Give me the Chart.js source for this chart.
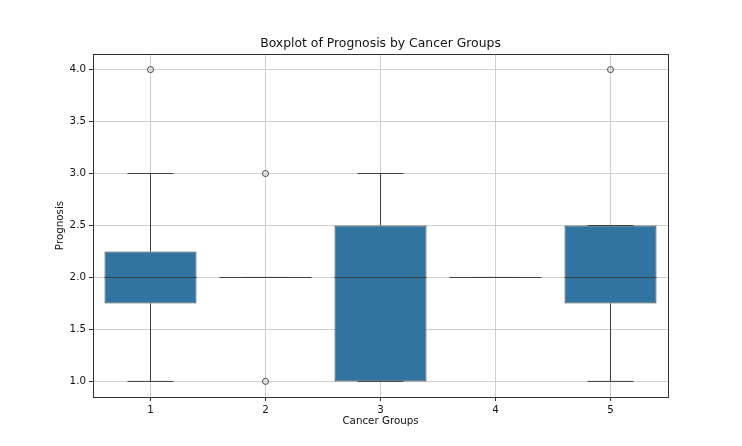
<!DOCTYPE html>
<html>
<head>
<meta charset="utf-8">
<script src="https://cdn.jsdelivr.net/npm/chart.js@4"></script>
<style>
  html, body { margin: 0; padding: 0; background: #fff; }
  #wrap { width: 742px; height: 446px; }
</style>
</head>
<body>
<div id="wrap"><canvas id="chart"></canvas></div>
<script>
// boxplot stats per cancer group
const groups = ['1', '2', '3', '4', '5'];
const q1 = [1.75, 2, 1, 2, 1.75];
const q3 = [2.25, 2, 2.5, 2, 2.5];
const medians = [2, 2, 2, 2, 2];
const whiskerLow = [1, 2, 1, 2, 1];
const whiskerHigh = [3, 2, 3, 2, 2.5];
const outliers = [[4], [1, 3], [], [], [4]];
const yTicks = [1.0, 1.5, 2.0, 2.5, 3.0, 3.5, 4.0];
const titleText = 'Boxplot of Prognosis by Cancer Groups';

const boxFill = '#3274a1';
const lineColor = '#3f3f3f';
const font = 'DejaVu Sans';

const outlierPoints = [];
outliers.forEach((vals, i) => {
    vals.forEach(v => outlierPoints.push({ x: groups[i], y: v }));
});

const boxPlugin = {
    id: 'boxParts',
    afterDatasetsDraw(chart) {
        const ctx = chart.ctx;
        const y = chart.scales.y;
        const bars = chart.getDatasetMeta(0).data;
        ctx.save();
        ctx.strokeStyle = lineColor;
        ctx.lineWidth = 1;
        bars.forEach((bar, i) => {
            const cx = bar.x;
            const half = bar.width / 2;
            const capHalf = half / 2;
            ctx.beginPath();
            // whiskers
            ctx.moveTo(cx, y.getPixelForValue(q1[i]));
            ctx.lineTo(cx, y.getPixelForValue(whiskerLow[i]));
            ctx.moveTo(cx, y.getPixelForValue(q3[i]));
            ctx.lineTo(cx, y.getPixelForValue(whiskerHigh[i]));
            // caps
            const lo = y.getPixelForValue(whiskerLow[i]);
            const hi = y.getPixelForValue(whiskerHigh[i]);
            ctx.moveTo(cx - capHalf, lo);
            ctx.lineTo(cx + capHalf, lo);
            ctx.moveTo(cx - capHalf, hi);
            ctx.lineTo(cx + capHalf, hi);
            // median
            const m = y.getPixelForValue(medians[i]);
            ctx.moveTo(cx - half, m);
            ctx.lineTo(cx + half, m);
            ctx.stroke();
        });
        // frame round plot area
        const a = chart.chartArea;
        ctx.strokeStyle = '#333';
        ctx.strokeRect(Math.round(a.left) + 0.5, Math.round(a.top) + 0.5,
            Math.round(a.right - a.left), Math.round(a.bottom - a.top));
        // title centred over the plot area, like matplotlib
        ctx.fillStyle = '#111';
        ctx.font = '12.4px "' + font + '"';
        ctx.textAlign = 'center';
        ctx.textBaseline = 'middle';
        ctx.fillText(titleText, (a.left + a.right) / 2, a.top - 10);
        ctx.restore();
    }
};

new Chart(document.getElementById('chart'), {
    data: {
        labels: groups,
        datasets: [
            {
                type: 'bar',
                data: groups.map((g, i) => [q1[i], q3[i]]),
                backgroundColor: boxFill,
                borderColor: lineColor,
                borderWidth: 1,
                borderSkipped: false,
                barPercentage: 0.8,
                categoryPercentage: 1.0
            },
            {
                type: 'scatter',
                data: outlierPoints,
                pointStyle: 'circle',
                pointRadius: 3,
                pointBackgroundColor: 'rgba(0,0,0,0)',
                pointBorderColor: lineColor,
                pointBorderWidth: 1
            }
        ]
    },
    options: {
        responsive: true,
        maintainAspectRatio: false,
        animation: false,
        layout: { padding: { top: 54, left: 50, right: 74, bottom: 14 } },
        plugins: {
            legend: { display: false },
            tooltip: { enabled: false },
            title: { display: false }
        },
        scales: {
            x: {
                type: 'category',
                offset: true,
                grid: { color: '#cfcfcf', tickColor: '#333', tickLength: 4, offset: false },
                border: { color: '#333' },
                ticks: { color: '#111', padding: 3, font: { family: font, size: 10.3 } },
                title: {
                    display: true, text: 'Cancer Groups', color: '#111',
                    font: { family: font, size: 10.3 }
                },
                afterFit(scale) { scale.height = 35; }
            },
            y: {
                min: 0.85,
                max: 4.15,
                afterBuildTicks(scale) { scale.ticks = yTicks.map(v => ({ value: v })); },
                grid: { color: '#cfcfcf', tickColor: '#333', tickLength: 4 },
                border: { color: '#333' },
                ticks: {
                    color: '#111', padding: 3, font: { family: font, size: 10.3 },
                    callback: v => Number(v).toFixed(1)
                },
                title: {
                    display: true, text: 'Prognosis', color: '#111',
                    font: { family: font, size: 10.3 }
                },
                afterFit(scale) { scale.width = 43; }
            }
        }
    },
    plugins: [boxPlugin]
});
</script>
</body>
</html>
